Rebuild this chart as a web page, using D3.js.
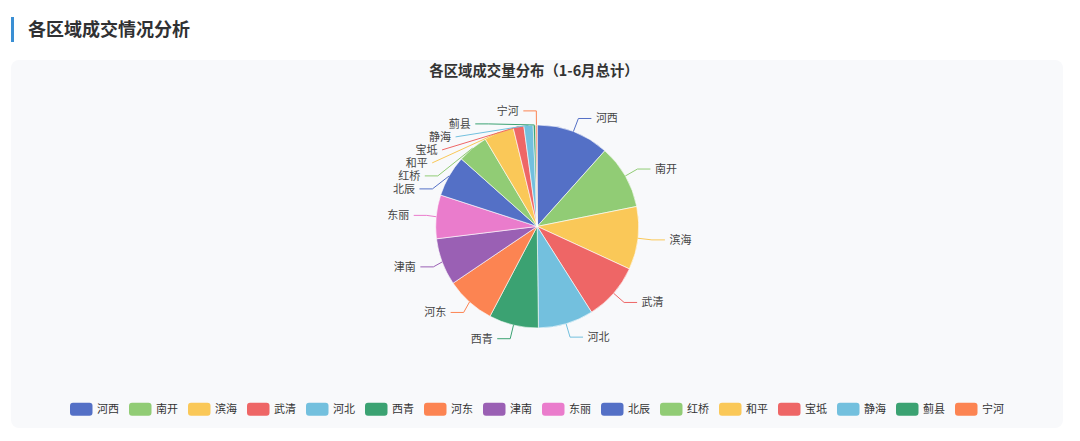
<!DOCTYPE html>
<html>
<head>
<meta charset="utf-8">
<script src="https://cdn.jsdelivr.net/npm/d3@7/dist/d3.min.js"></script>
<style>
  body { margin: 0; background: #fff; }
  svg { display: block; font-family: "Noto Sans CJK SC", "Noto Sans", sans-serif; }
</style>
</head>
<body>
<svg id="chart"></svg>
<script>
// 各区域 1-6 月成交量（读图估算）
var regions = ["河西", "南开", "滨海", "武清", "河北", "西青", "河东", "津南",
               "东丽", "北辰", "红桥", "和平", "宝坻", "静海", "蓟县", "宁河"];
var volumes = [1254, 1107, 1083, 987, 951, 852, 849, 810,
               750, 711, 528, 513, 183, 159, 42, 26];
var palette = ["#5470c6", "#91cc75", "#fac858", "#ee6666", "#73c0de",
               "#3ba272", "#fc8452", "#9a60b4", "#ea7ccc"];

var pageTitle = "各区域成交情况分析";
var chartTitle = "各区域成交量分布（1-6月总计）";

var svgWidth = 1080, svgHeight = 441;
var card = { x: 11, y: 60, w: 1052, h: 368 };
var cx = 537.2, cy = 226.4, R = 101.5;
var LEN = 14, LEN2 = 13, GAP = 4.5, LH = 13;

var svg = d3.select("#chart")
  .attr("width", svgWidth)
  .attr("height", svgHeight);

// page header
svg.append("rect")
  .attr("x", 11).attr("y", 17)
  .attr("width", 3).attr("height", 25)
  .attr("fill", "#3a8fd4");

svg.append("text")
  .attr("x", 28).attr("y", 30)
  .attr("dy", "0.35em")
  .style("font-size", "18px")
  .style("font-weight", "bold")
  .style("fill", "#303133")
  .text(pageTitle);

// card
svg.append("rect")
  .attr("x", card.x).attr("y", card.y)
  .attr("width", card.w).attr("height", card.h)
  .attr("rx", 8)
  .attr("fill", "#f8f9fb");

svg.append("text")
  .attr("x", 534).attr("y", 71)
  .attr("dy", "0.35em")
  .attr("text-anchor", "middle")
  .style("font-size", "14.4px")
  .style("font-weight", "bold")
  .style("fill", "#333")
  .text(chartTitle);

var color = d3.scaleOrdinal().domain(regions).range(palette);

var data = regions.map(function (d, i) { return { name: d, value: volumes[i] }; });

var pie = d3.pie().sort(null).value(function (d) { return d.value; });
var arcs = pie(data);

var arc = d3.arc().innerRadius(0).outerRadius(R);

var pieGroup = svg.append("g")
  .attr("transform", "translate(" + cx + "," + cy + ")");

pieGroup.selectAll("path")
  .data(arcs)
  .join("path")
  .attr("d", arc)
  .attr("fill", function (d) { return color(d.data.name); })
  .attr("stroke", "#fff")
  .attr("stroke-width", 0.6)
  .attr("stroke-linejoin", "round");

// ---- label layout (outer labels with guide lines) ----
var items = arcs.map(function (a) {
  var mid = (a.startAngle + a.endAngle) / 2;
  var nx = Math.sin(mid), ny = -Math.cos(mid);
  var x1 = cx + R * nx, y1 = cy + R * ny;
  var x2 = x1 + nx * LEN, y2 = y1 + ny * LEN;
  var dir = nx < 0 ? -1 : 1;
  var x3 = x2 + dir * LEN2;
  return {
    name: a.data.name, nx: nx, ny: ny, dir: dir,
    len: LEN, len2: LEN2,
    x: x3 + dir * GAP, y: y2,
    pts: [[x1, y1], [x2, y2], [x3, y2]]
  };
});

function shiftSide(list) {
  list.sort(function (a, b) { return a.y - b.y; });
  var lastPos = 0, adjusted = false;
  list.forEach(function (it) {
    var delta = (it.y - LH / 2) - lastPos;
    if (delta < 0) { it.y -= delta; adjusted = true; }
    lastPos = it.y + LH / 2;
  });
  return adjusted;
}

function recalcX(list, dir) {
  var semis = [{ list: [], maxY: 0, rB: 0 }, { list: [], maxY: 0, rB: 0 }];
  list.forEach(function (it) {
    var s = it.y > cy ? semis[1] : semis[0];
    var dy = Math.abs(it.y - cy);
    if (dy >= s.maxY) {
      var dx = it.x - cx - it.len2 * dir;
      var rA = R + it.len;
      s.rB = Math.abs(dx) < rA ? Math.sqrt(dy * dy / (1 - dx * dx / rA / rA)) : rA;
      s.maxY = dy;
    }
    s.list.push(it);
  });
  semis.forEach(function (s) {
    s.list.forEach(function (it) {
      var dy = Math.abs(it.y - cy), rA = R + it.len;
      var dx = Math.sqrt(Math.max(0, 1 - dy * dy / (s.rB * s.rB)) * rA * rA);
      it.x = cx + (dx + it.len2) * dir;
    });
  });
}

[-1, 1].forEach(function (dir) {
  var side = items.filter(function (it) { return it.dir === dir; });
  if (side.length > 1 && shiftSide(side)) recalcX(side, dir);
});

function project(a, b, p) {
  var dx = b[0] - a[0], dy = b[1] - a[1];
  var t = ((p[0] - a[0]) * dx + (p[1] - a[1]) * dy) / (dx * dx + dy * dy);
  var q = [a[0] + t * dx, a[1] + t * dy];
  return { p: q, d: Math.hypot(q[0] - p[0], q[1] - p[1]) };
}

function clampOnSegment(q, p1, p2) {
  var t = p2[0] !== p1[0] ? (q[0] - p1[0]) / (p2[0] - p1[0]) : (q[1] - p1[1]) / (p2[1] - p1[1]);
  if (t < 0) return p1.slice();
  if (t > 1) return p2.slice();
  return q;
}

function limitTurnAngle(pts) {
  var p0 = pts[0], p1 = pts[1], p2 = pts[2];
  var a = [p0[0] - p1[0], p0[1] - p1[1]], b = [p2[0] - p1[0], p2[1] - p1[1]];
  var la = Math.hypot(a[0], a[1]), lb = Math.hypot(b[0], b[1]);
  if (la < 1e-3 || lb < 1e-3) return;
  var c = (a[0] * b[0] + a[1] * b[1]) / (la * lb);
  if (c > Math.cos(Math.PI / 2)) {
    pts[1] = clampOnSegment(project(p1, p2, p0).p, p1, p2);
  }
}

function limitSurfaceAngle(pts, n) {
  var p0 = pts[0], p1 = pts[1], p2 = pts[2];
  var a = [p1[0] - p0[0], p1[1] - p0[1]], b = [p2[0] - p1[0], p2[1] - p1[1]];
  var la = Math.hypot(a[0], a[1]), lb = Math.hypot(b[0], b[1]);
  if (la < 1e-3 || lb < 1e-3) return;
  var c = (a[0] * n[0] + a[1] * n[1]) / la;
  if (c < Math.cos(Math.PI / 2)) {
    var pr = project(p1, p2, p0);
    var newAngle = Math.acos((b[0] * n[0] + b[1] * n[1]) / lb);
    var q;
    if (newAngle >= Math.PI / 2) {
      q = p2.slice();
    } else {
      var k = pr.d / Math.tan(Math.PI / 2 - newAngle);
      q = clampOnSegment([pr.p[0] + b[0] / lb * k, pr.p[1] + b[1] / lb * k], p1, p2);
    }
    pts[1] = q;
  }
}

items.forEach(function (it) {
  var p = it.pts;
  var dist = p[1][0] - p[2][0];
  p[2][0] = it.x - it.dir * GAP;
  p[1][0] = p[2][0] + dist;
  p[1][1] = p[2][1] = it.y;
  limitTurnAngle(p);
  limitSurfaceAngle(p, [it.nx, it.ny]);
});

var line = d3.line();

svg.append("g")
  .selectAll("path")
  .data(items)
  .join("path")
  .attr("d", function (d) { return line(d.pts); })
  .attr("fill", "none")
  .attr("stroke", function (d) { return color(d.name); })
  .attr("stroke-width", 1);

svg.append("g")
  .selectAll("text")
  .data(items)
  .join("text")
  .attr("x", function (d) { return d.x; })
  .attr("y", function (d) { return d.y; })
  .attr("dy", "0.35em")
  .attr("text-anchor", function (d) { return d.dir < 0 ? "end" : "start"; })
  .style("font-size", "11px")
  .style("fill", "#444")
  .text(function (d) { return d.name; });

// ---- legend ----
var legendY = 409.2, boxW = 22.5, boxH = 13, textGap = 4.5, itemGap = 10;

var legend = svg.append("g");
var legendItems = legend.selectAll("g")
  .data(regions)
  .join("g");

legendItems.append("rect")
  .attr("width", boxW)
  .attr("height", boxH)
  .attr("y", legendY - boxH / 2)
  .attr("rx", 3)
  .attr("fill", function (d) { return color(d); });

legendItems.append("text")
  .attr("x", boxW + textGap)
  .attr("y", legendY)
  .attr("dy", "0.35em")
  .style("font-size", "11px")
  .style("fill", "#333")
  .text(function (d) { return d; });

var offsets = [], total = 0;
legendItems.each(function (d, i) {
  var w = boxW + textGap + d3.select(this).select("text").node().getComputedTextLength();
  offsets.push(total);
  total += w + (i < regions.length - 1 ? itemGap : 0);
});
var legendStart = card.x + card.w / 2 - total / 2;
legendItems.attr("transform", function (d, i) {
  return "translate(" + (legendStart + offsets[i]) + ",0)";
});
</script>
</body>
</html>
